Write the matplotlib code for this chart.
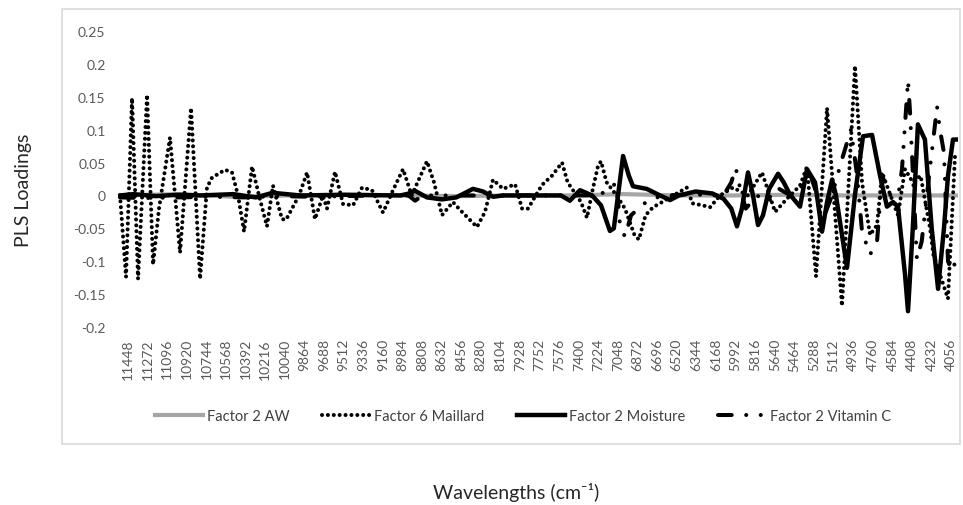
import matplotlib
matplotlib.use("Agg")
import matplotlib.pyplot as plt
from matplotlib.patches import Rectangle
from matplotlib.lines import Line2D

plt.rcParams['font.family'] = ['Lato', 'DejaVu Sans']

# wavenumber tick labels on the category axis
tick_wn = [11448, 11272, 11096, 10920, 10744, 10568, 10392, 10216, 10040, 9864,
           9688, 9512, 9336, 9160, 8984, 8808, 8632, 8456, 8280, 8104,
           7928, 7752, 7576, 7400, 7224, 7048, 6872, 6696, 6520, 6344,
           6168, 5992, 5816, 5640, 5464, 5288, 5112, 4936, 4760, 4584,
           4408, 4232, 4056]
y_ticks = [-0.2, -0.15, -0.1, -0.05, 0, 0.05, 0.1, 0.15, 0.2, 0.25]
y_tick_labels = ['-0.2', '-0.15', '-0.1', '-0.05', '0', '0.05', '0.1', '0.15', '0.2', '0.25']

# Factor 2 AW loadings
aw_wn = [11520, 11000, 10500, 10000, 9500, 9000, 8500, 8000, 7500, 7000,
         6500, 6000, 5500, 5000, 4500, 3994]
aw_load = [0.0, 0.002, -0.002, 0.0, 0.001, 0.0, -0.001, 0.0, 0.0, 0.002,
           0.0, 0.0, 0.001, 0.0, 0.0, 0.0]

# Factor 6 Maillard loadings
maillard_wn = [11520, 11466, 11412, 11358, 11277, 11223, 11170, 11071, 10981, 10882,
               10801, 10739, 10694, 10577, 10514, 10460, 10406, 10334, 10272, 10200,
               10146, 10065, 10029, 9912, 9840, 9769, 9697, 9661, 9589, 9517,
               9427, 9346, 9257, 9158, 9068, 8978, 8900, 8763, 8700, 8628,
               8530, 8466, 8314, 8242, 8170, 8080, 7972, 7909, 7856, 7730,
               7640, 7550, 7500, 7380, 7326, 7280, 7227, 7200, 7150, 7060,
               6985, 6900, 6860, 6800, 6733, 6650, 6550, 6428, 6380, 6290,
               6221, 6131, 6015, 5880, 5754, 5637, 5530, 5413, 5350, 5269,
               5170, 5036, 4919, 4856, 4784, 4721, 4676, 4600, 4533, 4470,
               4400, 4330, 4245, 4215, 4084, 4021, 3994]
maillard_load = [0.0, -0.124, 0.148, -0.127, 0.153, -0.105, -0.02, 0.088, -0.087, 0.133,
                 -0.127, 0.012, 0.027, 0.039, 0.035, 0.0, -0.055, 0.044, 0.0, -0.047,
                 0.015, -0.036, -0.037, 0.0, 0.035, -0.036, 0.0, -0.02, 0.036, -0.013,
                 -0.015, 0.012, 0.008, -0.026, 0.008, 0.04, 0.0, 0.052, 0.02, -0.03,
                 -0.01, -0.022, -0.048, -0.025, 0.024, 0.01, 0.017, -0.02, -0.02, 0.016,
                 0.03, 0.05, 0.02, -0.01, -0.034, 0.005, 0.045, 0.052, 0.02, 0.0,
                 -0.02, -0.06, -0.067, -0.03, -0.018, -0.01, 0.0, 0.012, -0.012, -0.015,
                 -0.018, 0.0, 0.012, 0.0, 0.035, -0.025, -0.005, 0.015, 0.044, -0.123,
                 0.133, -0.168, 0.197, 0.02, -0.06, -0.045, 0.035, 0.0, -0.03, 0.04,
                 0.02, 0.03, -0.05, -0.09, -0.157, 0.06, 0.065]

# Factor 2 Moisture loadings
moisture_wn = [11520, 11400, 11200, 11000, 10800, 10500, 10300, 10150, 9900, 9500,
               9000, 8925, 8870, 8763, 8628, 8500, 8350, 8260, 8170, 8080,
               7700, 7560, 7480, 7389, 7280, 7200, 7120, 7085, 7002, 6950,
               6913, 6790, 6670, 6580, 6500, 6350, 6200, 6100, 6030, 5979,
               5935, 5880, 5835, 5790, 5745, 5690, 5610, 5560, 5502, 5413,
               5350, 5278, 5215, 5170, 5125, 5090, 4991, 4920, 4847, 4766,
               4694, 4632, 4578, 4533, 4470, 4443, 4400, 4354, 4291, 4230,
               4173, 4120, 4084, 4039, 3994]
moisture_load = [0.0, 0.002, -0.001, 0.001, 0.0, 0.002, -0.003, 0.004, 0.0, 0.001,
                 0.0, 0.003, 0.007, -0.003, -0.006, -0.003, 0.01, 0.006, -0.002, 0.0,
                 0.0, 0.0, -0.008, 0.008, 0.0, -0.015, -0.054, -0.05, 0.06, 0.03,
                 0.014, 0.01, 0.0, -0.007, 0.0, 0.006, 0.003, -0.005, -0.02, -0.047,
                 -0.02, 0.035, 0.0, -0.045, -0.03, 0.01, 0.033, 0.02, 0.001, -0.017,
                 0.04, 0.02, -0.055, -0.01, 0.024, 0.0, -0.11, 0.0, 0.09, 0.092,
                 0.03, -0.017, -0.01, -0.017, -0.12, -0.176, -0.05, 0.108, 0.085, -0.05,
                 -0.142, -0.05, 0.03, 0.085, 0.085]

# Factor 2 Vitamin C loadings
vitc_wn = [11520, 11300, 11000, 10700, 10400, 10100, 9800, 9500, 9200, 8930,
           8870, 8800, 8500, 8200, 7900, 7600, 7300, 7150, 7060, 7030,
           6985, 6930, 6850, 6760, 6600, 6400, 6200, 6100, 6030, 5990,
           5950, 5900, 5800, 5700, 5600, 5500, 5420, 5341, 5278, 5215,
           5125, 5045, 4955, 4900, 4856, 4784, 4721, 4676, 4600, 4530,
           4497, 4443, 4425, 4363, 4320, 4240, 4182, 4156, 4120, 4084,
           4048, 3994]
vitc_load = [-0.003, -0.004, -0.003, -0.002, -0.003, -0.001, -0.002, -0.001, 0.0, 0.0,
             -0.008, 0.0, 0.0, 0.0, 0.0, 0.0, 0.0, 0.005, 0.02, -0.045,
             -0.063, -0.03, -0.018, -0.005, 0.0, 0.002, 0.0, 0.0, 0.02, 0.042,
             0.01, -0.02, 0.0, -0.01, 0.01, 0.0, 0.005, 0.042, 0.01, -0.04,
             0.0, 0.05, 0.1, 0.03, -0.055, -0.09, -0.07, 0.03, 0.0, 0.0,
             0.04, 0.175, 0.127, -0.097, -0.07, 0.05, 0.135, 0.1, 0.065, -0.1,
             -0.115, -0.09]

W, H = 963, 506
fig = plt.figure(figsize=(W / 100, H / 100), dpi=100)
ax = fig.add_axes([118 / W, 1 - 328 / H, 840 / W, 296 / H])

# light grey chart-area border
fig.patches.append(Rectangle((62 / W, 1 - 445 / H), 898 / W, 435 / H,
                             transform=fig.transFigure, fill=False,
                             edgecolor='#d9d9d9', linewidth=1.2))

ax.axhline(0, color='#d9d9d9', linewidth=1.2, zorder=1)

dotted = (0, (0.01, 1.45))
dash_dot_dot = (0, (3.4, 3.6, 0.01, 3.6, 0.01, 3.6))

ax.plot(aw_wn, aw_load, color='#a5a5a5', linewidth=3.0, zorder=2)
ax.plot(maillard_wn, maillard_load, color='black', linewidth=2.9,
        linestyle=dotted, dash_capstyle='round', zorder=3)
ax.plot(moisture_wn, moisture_load, color='black', linewidth=3.2,
        solid_joinstyle='round', solid_capstyle='round', zorder=4)
ax.plot(vitc_wn, vitc_load, color='black', linewidth=2.9,
        linestyle=dash_dot_dot, dash_capstyle='round', zorder=5)

ax.set_xlim(11538, 3994)
ax.set_ylim(-0.2, 0.25)
ax.set_xticks(tick_wn)
ax.set_xticklabels([str(t) for t in tick_wn], rotation=90, fontsize=10, color='#595959')
ax.set_yticks(y_ticks)
ax.set_yticklabels(y_tick_labels, fontsize=10, color='#595959')
ax.tick_params(axis='both', length=0)
ax.tick_params(axis='y', pad=9)
ax.tick_params(axis='x', pad=8)
for side in ['top', 'right', 'left', 'bottom']:
    ax.spines[side].set_visible(False)

fig.text(23 / W, 1 - 190 / H, 'PLS Loadings', rotation=90, ha='center', va='center',
         fontsize=14, color='#262626')
fig.text(516 / W, 1 - 493 / H, 'Wavelengths (cm⁻¹)', ha='center', va='center',
         fontsize=14, color='#262626')

handles = [
    Line2D([], [], color='#a5a5a5', linewidth=3.0),
    Line2D([], [], color='black', linewidth=2.9, linestyle=dotted, dash_capstyle='round'),
    Line2D([], [], color='black', linewidth=3.2),
    Line2D([], [], color='black', linewidth=2.9, linestyle=dash_dot_dot, dash_capstyle='round'),
]
labels = ['Factor 2 AW', 'Factor 6 Maillard', 'Factor 2 Moisture', 'Factor 2 Vitamin C']
fig.legend(handles, labels, loc='center', bbox_to_anchor=(523 / W, 1 - 417 / H), ncol=4,
           frameon=False, fontsize=10.5, handlelength=3.3, handletextpad=0.3,
           columnspacing=2.2, labelcolor='#404040')

fig.savefig('out.png', dpi=100)
